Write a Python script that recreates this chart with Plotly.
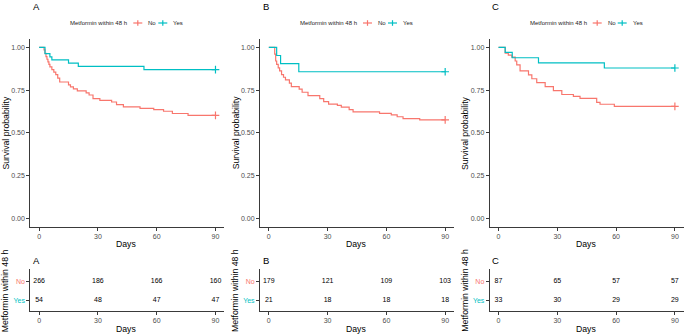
import plotly.graph_objects as go

# ---------------- data ----------------
panels = ["A", "B", "C"]
groups = ["No", "Yes"]
legend_title = "Metformin within 48 h"
day_ticks = [0, 30, 60, 90]

# Kaplan-Meier step points (day of drop, survival after drop)
A_no_t = [2.5, 3, 3.5, 4, 4.5, 5, 5.5, 6.5, 7.5, 8.5, 9.5, 10.5, 15, 16, 17.5, 19.5, 24, 25.5, 27.5, 31, 37, 39.5, 43, 51.5, 58.5, 63.5, 68, 76]
A_no_s = [0.985, 0.965, 0.945, 0.93, 0.915, 0.90, 0.885, 0.87, 0.855, 0.84, 0.82, 0.797, 0.78, 0.768, 0.757, 0.745, 0.733, 0.721, 0.70, 0.69, 0.68, 0.665, 0.652, 0.643, 0.636, 0.626, 0.613, 0.602]
A_yes_t = [3, 5.5, 6.5, 15, 20, 53.5]
A_yes_s = [0.963, 0.944, 0.926, 0.907, 0.889, 0.870]

B_no_t = [3, 3.5, 4, 4.8, 5.5, 6.5, 7.5, 8.5, 10.5, 11.5, 15.5, 17, 20, 26, 28, 30.5, 35, 37, 41, 43, 56.5, 62.5, 65.5, 68.5, 77]
B_no_s = [0.96, 0.92, 0.90, 0.88, 0.862, 0.84, 0.825, 0.81, 0.79, 0.77, 0.755, 0.737, 0.717, 0.70, 0.682, 0.668, 0.66, 0.65, 0.636, 0.622, 0.614, 0.605, 0.594, 0.583, 0.575]
B_yes_t = [4, 6, 15.3]
B_yes_s = [0.952, 0.905, 0.857]

C_no_t = [3.4, 5, 6.8, 8.5, 9.3, 11, 15.3, 17, 19.5, 23.8, 28, 32.3, 38.2, 41.6, 50.1, 51.8, 59.1]
C_no_s = [0.966, 0.954, 0.943, 0.92, 0.897, 0.862, 0.839, 0.816, 0.793, 0.770, 0.747, 0.724, 0.713, 0.701, 0.678, 0.667, 0.655]
C_yes_t = [3.4, 7, 20.4, 54]
C_yes_s = [0.970, 0.939, 0.909, 0.879]

# Numbers at risk at days 0, 30, 60, 90
A_risk_no = [266, 186, 166, 160]
A_risk_yes = [54, 48, 47, 47]
B_risk_no = [179, 121, 109, 103]
B_risk_yes = [21, 18, 18, 18]
C_risk_no = [87, 65, 57, 57]
C_risk_yes = [33, 30, 29, 29]

y_ticks = [0, 0.25, 0.5, 0.75, 1.0]
y_tick_labels = ["0.00", "0.25", "0.50", "0.75", "1.00"]

curves = {
    "A": {"No": (A_no_t, A_no_s), "Yes": (A_yes_t, A_yes_s)},
    "B": {"No": (B_no_t, B_no_s), "Yes": (B_yes_t, B_yes_s)},
    "C": {"No": (C_no_t, C_no_s), "Yes": (C_yes_t, C_yes_s)},
}
risk = {
    "A": {"No": A_risk_no, "Yes": A_risk_yes},
    "B": {"No": B_risk_no, "Yes": B_risk_yes},
    "C": {"No": C_risk_no, "Yes": C_risk_yes},
}

# ---------------- style ----------------
W, H = 685, 335
FONT = "Liberation Sans, Arial, sans-serif"
colors = {"No": "#F8766D", "Yes": "#00BFC4"}
AX = "#3a3a3a"
TICKC = "#4d4d4d"
END_DAY = 90
LW = 1.2


def fx(p):
    return p / W


def fy(p):
    return 1 - p / H


col_left = [30.3, 260.0, 489.7]
col_w = 194.0
km_top, km_bot = 38.75, 226.85
rt_top, rt_bot = 269.0, 310.7
leg_y = 23.0

fig = go.Figure()
layout = dict(
    width=W, height=H, margin=dict(l=0, r=0, t=0, b=0),
    paper_bgcolor="white", plot_bgcolor="white",
    font=dict(family=FONT, color="black"),
    annotations=[], shapes=[], showlegend=False,
)
ann = layout["annotations"]
shp = layout["shapes"]

for i, p in enumerate(panels):
    k = 2 * i + 1
    r = 2 * i + 2
    xk, yk = ("x" if k == 1 else f"x{k}"), ("y" if k == 1 else f"y{k}")
    xr, yr = f"x{r}", f"y{r}"
    xdom = [fx(col_left[i]), fx(col_left[i] + col_w)]

    for g in groups:
        t, s = curves[p][g]
        xs = [0] + list(t) + [END_DAY]
        ys = [1.0] + list(s) + [s[-1]]
        fig.add_trace(go.Scatter(
            x=xs, y=ys, mode="lines", line=dict(color=colors[g], width=LW, shape="hv"),
            xaxis=xk, yaxis=yk, name=g, hoverinfo="skip"))
        fig.add_trace(go.Scatter(
            x=[END_DAY], y=[s[-1]], mode="markers", name=g,
            marker=dict(symbol="cross-thin", size=5.5, line=dict(color=colors[g], width=LW)),
            xaxis=xk, yaxis=yk))
        # risk table numbers
        fig.add_trace(go.Scatter(
            x=day_ticks, y=[1 if g == "No" else 0] * len(day_ticks),
            text=[str(v) for v in risk[p][g]], mode="text",
            textfont=dict(size=7, color="black", family=FONT),
            xaxis=xr, yaxis=yr, hoverinfo="skip"))

    common_x = dict(range=[-4.5, 94.5], tickvals=day_ticks, ticks="outside", ticklen=3,
                    tickcolor=AX, tickwidth=1, showline=True, linecolor=AX, linewidth=1,
                    showgrid=False, zeroline=False, tickfont=dict(size=7, color=TICKC),
                    domain=xdom)
    layout["xaxis" if k == 1 else f"xaxis{k}"] = dict(common_x, anchor=yk)
    layout[f"xaxis{r}"] = dict(common_x, anchor=yr)
    layout["yaxis" if k == 1 else f"yaxis{k}"] = dict(
        range=[-0.05, 1.05], tickvals=y_ticks, ticktext=y_tick_labels, ticks="outside",
        ticklen=3, tickcolor=AX, showline=True, linecolor=AX, linewidth=1, showgrid=False,
        zeroline=False, tickfont=dict(size=7, color=TICKC),
        domain=[fy(km_bot), fy(km_top)], anchor=xk)
    layout[f"yaxis{r}"] = dict(
        range=[-0.55, 1.65], tickvals=[0, 1],
        ticktext=[f'<span style="color:{colors["Yes"]}">Yes</span>',
                  f'<span style="color:{colors["No"]}">No</span>'],
        ticks="outside", ticklen=3, tickcolor=AX, showline=True, linecolor=AX, linewidth=1,
        showgrid=False, zeroline=False, tickfont=dict(size=7),
        domain=[fy(rt_bot), fy(rt_top)], anchor=xr)

    cx = col_left[i] + col_w / 2
    ax_x = col_left[i] + 0.5

    # legend (ggplot-style, top, horizontal)
    ann.append(dict(text=legend_title, x=fx(cx + 2), y=fy(leg_y), xref="paper", yref="paper",
                    xanchor="right", yanchor="middle", showarrow=False,
                    font=dict(size=6, color="#222")))
    key_offsets = {"No": (6, 19), "Yes": (31, 44)}
    for g in groups:
        k0, t0 = key_offsets[g]
        x0, x1 = cx + k0, cx + k0 + 9
        xm = (x0 + x1) / 2
        shp.append(dict(type="line", xref="paper", yref="paper", x0=fx(x0), x1=fx(x1),
                        y0=fy(leg_y), y1=fy(leg_y), line=dict(color=colors[g], width=LW)))
        shp.append(dict(type="line", xref="paper", yref="paper", x0=fx(xm), x1=fx(xm),
                        y0=fy(leg_y - 2.8), y1=fy(leg_y + 2.8), line=dict(color=colors[g], width=LW)))
        ann.append(dict(text=g, x=fx(cx + t0), y=fy(leg_y), xref="paper", yref="paper",
                        xanchor="left", yanchor="middle", showarrow=False,
                        font=dict(size=6, color="#222")))

    ann.append(dict(text=p, x=fx(ax_x), y=fy(6.5), xref="paper", yref="paper",
                    xanchor="left", yanchor="middle", showarrow=False, font=dict(size=9.5)))
    ann.append(dict(text=p, x=fx(ax_x), y=fy(260.5), xref="paper", yref="paper",
                    xanchor="left", yanchor="middle", showarrow=False, font=dict(size=9.5)))
    ann.append(dict(text="Survival probability", x=fx(col_left[i] - 24.5), y=fy((km_top + km_bot) / 2),
                    xref="paper", yref="paper", xanchor="center", yanchor="middle",
                    textangle=-90, showarrow=False, font=dict(size=8.7)))
    ann.append(dict(text="Metformin within 48 h", x=fx(col_left[i] - 25.5), y=fy(290.5),
                    xref="paper", yref="paper", xanchor="center", yanchor="middle",
                    textangle=-90, showarrow=False, font=dict(size=8.7)))
    ann.append(dict(text="Days", x=fx(cx - 1), y=fy(243.5), xref="paper", yref="paper",
                    xanchor="center", yanchor="middle", showarrow=False, font=dict(size=8.7)))
    ann.append(dict(text="Days", x=fx(cx - 1), y=fy(328.5), xref="paper", yref="paper",
                    xanchor="center", yanchor="middle", showarrow=False, font=dict(size=8.7)))

fig.update_layout(**layout)
fig.write_html("out.html", config={"displayModeBar": False},
               post_script="document.body.style.margin='0';document.body.style.padding='0';")
